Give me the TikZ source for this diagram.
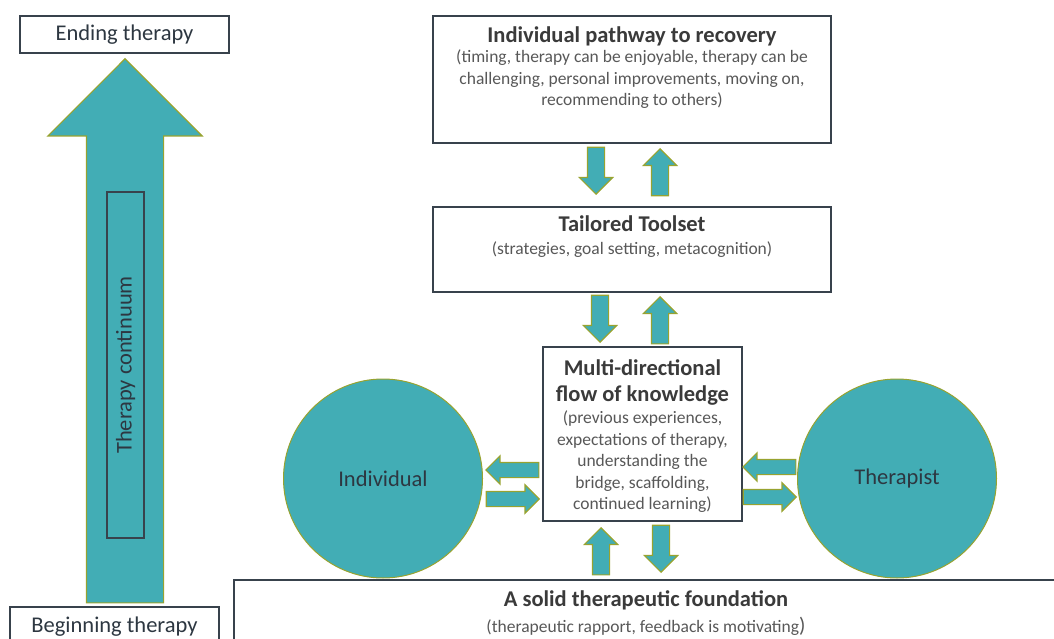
\documentclass[tikz,border=0pt]{standalone}
\usepackage{fontspec}
\setmainfont{Carlito}
\usetikzlibrary{shapes.arrows}

\definecolor{tealfill}{RGB}{66,173,181}
\definecolor{arrowrim}{RGB}{152,163,48}
\definecolor{boxline}{RGB}{56,66,76}
\definecolor{titletext}{RGB}{58,58,58}
\definecolor{subtext}{RGB}{88,88,88}
\definecolor{labeltext}{RGB}{45,55,65}

\tikzset{
  box/.style={draw=boxline, line width=2.2pt, fill=white},
  heading/.style={font=\fontsize{22.5}{26}\selectfont\bfseries, text=titletext, inner sep=0pt},
  detail/.style={font=\fontsize{17.5}{21.5}\selectfont, text=subtext, align=center, inner sep=0pt},
  plain/.style={font=\fontsize{22.5}{26}\selectfont, text=labeltext},
  blob/.style={circle, draw=arrowrim, line width=1pt, fill=tealfill, minimum size=199},
  blk/.style={single arrow, draw=arrowrim, fill=tealfill, line width=1.2pt, inner xsep=0pt, anchor=tip},
  vblk/.style={blk, minimum height=47, minimum width=32, inner ysep=8, single arrow head extend=8},
  hblk/.style={blk, minimum height=53, minimum width=27, inner ysep=7, single arrow head extend=6.5},
}

\begin{document}
\begin{tikzpicture}[x=1pt,y=-1pt]
\useasboundingbox (0,0) rectangle (1054,639);

% the therapy continuum
\node[blk, rotate=90, minimum height=544, minimum width=153, inner ysep=38, single arrow head extend=38.5] (continuum) at (125,58) {};
\node[plain, draw=boxline, line width=1.6pt, rotate=90, minimum width=346, minimum height=37, inner sep=0pt] (conttext) at (125.5,365) {Therapy continuum};
\node[box, line width=1.8pt, plain, minimum width=209, minimum height=37, inner sep=0pt, text height=14, text depth=2] (ending) at (124.5,34.5) {Ending therapy};
\node[box, line width=1.8pt, plain, anchor=north, minimum width=209, inner ysep=10, text depth=30] (beginning) at (114.5,606) {Beginning therapy};

% boxes
\node[box, minimum width=398, minimum height=127] (path) at (632,79.5) {};
\node[heading, anchor=base] (pathhead) at (632,42.5) {Individual pathway to recovery};
\node[detail, anchor=north] (pathinfo) at (632,50) {(timing, therapy can be enjoyable, therapy can be\\challenging, personal improvements, moving on,\\recommending to others)};

\node[box, minimum width=398, minimum height=85] (tool) at (632,249.5) {};
\node[heading, anchor=base] (toolhead) at (632,231) {Tailored Toolset};
\node[detail, anchor=base] (toolinfo) at (632,254) {(strategies, goal setting, metacognition)};

\node[box, line width=2pt, minimum width=199, minimum height=174] (flow) at (642.5,434) {};
\node[heading, align=center, anchor=north] (flowhead) at (642.5,359) {Multi-directional\\flow of knowledge};
\node[detail, anchor=north] (flowinfo) at (642.5,411) {(previous experiences,\\expectations of therapy,\\understanding the\\bridge, scaffolding,\\continued learning)};

\node[box, anchor=north west, minimum width=840, minimum height=90] (base) at (233,579) {};
\node[heading, anchor=base] (basehead) at (646,606) {A solid therapeutic foundation};
\node[detail, anchor=base] (baseinfo) at (646,632) {(therapeutic rapport, feedback is motivating{\fontsize{21}{21}\selectfont)}};

% the two people
\node[blob, plain] (individual) at (383,478.5) {Individual};
\node[blob, plain] (therapist) at (897,478.5) {Therapist};

% block arrows between the parts, placed by their tips
\node[vblk, rotate=-90] (a1) at (596,195) {};
\node[vblk, rotate=90] (a2) at (660,148) {};
\node[vblk, rotate=-90] (a3) at (600,343) {};
\node[vblk, rotate=90] (a4) at (660,296) {};
\node[vblk, rotate=90] (a5) at (601,527) {};
\node[vblk, rotate=-90] (a6) at (661,573) {};

\node[hblk, rotate=180] (a7) at (485,470) {};
\node[hblk] (a8) at (540,499) {};
\node[hblk, rotate=180] (a9) at (742,467) {};
\node[hblk] (a10) at (797,497) {};
\end{tikzpicture}
\end{document}
